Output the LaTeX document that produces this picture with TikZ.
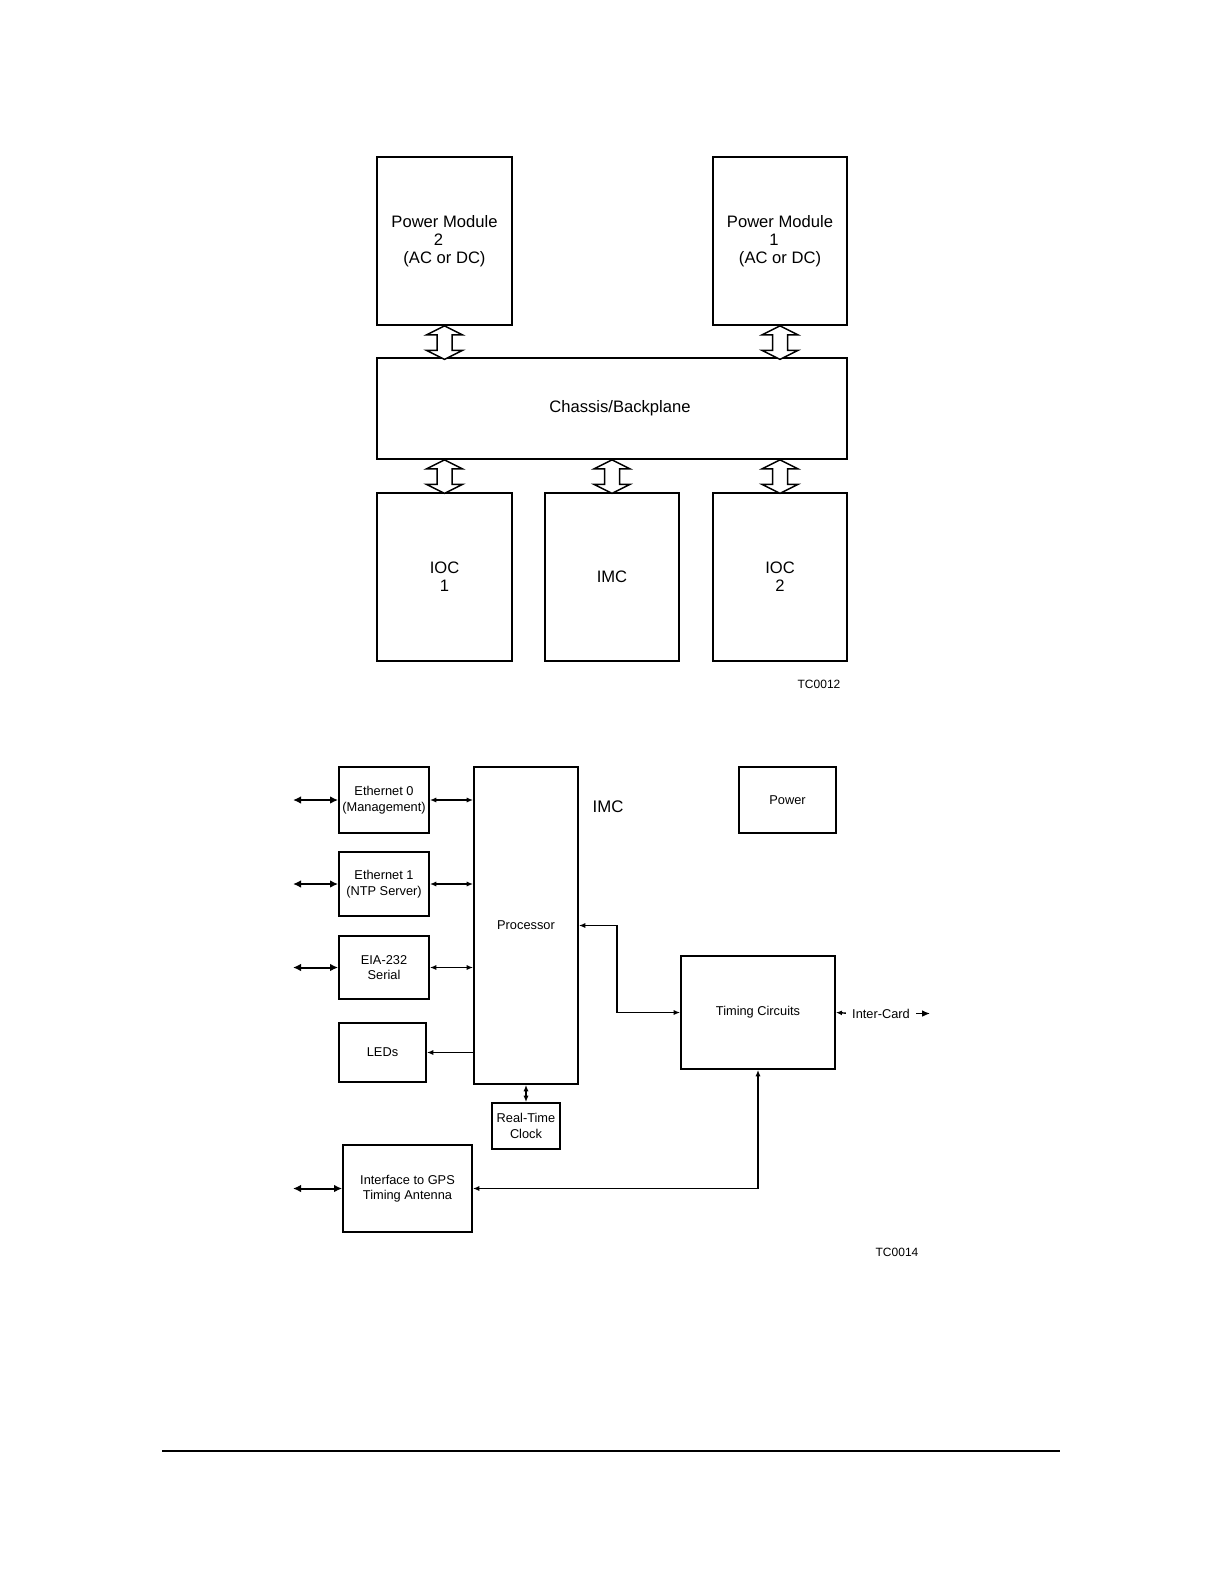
\documentclass[tikz,border=0pt]{standalone}
\usepackage{fontspec}
\setmainfont{Liberation Sans}
\usetikzlibrary{arrows.meta,calc}
\begin{document}
\begin{tikzpicture}[x=0.5pt,y=-0.5pt,
  box/.style={draw, line width=0.9pt, inner sep=1pt, align=center},
  topbox/.style={box, font=\fontsize{8.3}{9}\selectfont},
  lowbox/.style={box, font=\fontsize{6.4}{7.7}\selectfont},
  lowtext/.style={inner sep=0pt, font=\fontsize{6.4}{7.7}\selectfont},
  tctext/.style={inner sep=0pt, font=\fontsize{6}{7}\selectfont},
  con/.style={line width=0.7pt},
  sarr/.style={con, {Latex[length=3.2pt,width=2.6pt]}-{Latex[length=3.2pt,width=2.6pt]}},
  ext/.style={line width=1pt, {Latex[length=4pt,width=3.8pt]}-{Latex[length=4pt,width=3.8pt]}},
  hollow/.style={draw, line width=0.75pt, fill=white, line join=miter}
]
\useasboundingbox (0,0) rectangle (1224,1584);

% ---------- top diagram ----------
\node[topbox, minimum width=67.5pt, minimum height=84pt] (pm2) at (444.5,241)
  {Power Module\\\hbox{2\kern6pt}\\(AC or DC)};
\node[topbox, minimum width=67pt, minimum height=84pt] (pm1) at (780,241)
  {Power Module\\\hbox{1\kern6pt}\\(AC or DC)};
\node[topbox, minimum width=235pt, minimum height=50.5pt] (chassis) at (612,408.5)
  {\hspace*{8pt}Chassis/Backplane};
\node[topbox, minimum width=67.5pt, minimum height=84pt] (ioc1) at (444.5,577)
  {IOC\\1};
\node[topbox, minimum width=67pt, minimum height=84pt] (imc) at (612,577)
  {IMC};
\node[topbox, minimum width=67pt, minimum height=84pt] (ioc2) at (780,577)
  {IOC\\2};
\node[tctext] (tc12) at (819,684) {TC0012};

% hollow double arrows
\foreach \t in {(pm2.south), (pm1.south), (chassis.south -| ioc1.north), (chassis.south -| imc.north), (chassis.south -| ioc2.north)}{
  \draw[hollow] \t -- ++(-18,9) -- ++(10.5,0) -- ++(0,15.5) -- ++(-10.5,0) -- ++(18,9) -- ++(18,-9) -- ++(-10.5,0) -- ++(0,-15.5) -- ++(10.5,0) -- cycle;
}

% ---------- lower diagram ----------
\node[lowbox, minimum width=45pt, minimum height=33pt] (eth0) at (384,800)
  {Ethernet 0\\(Management)};
\node[lowbox, minimum width=45pt, minimum height=32pt] (eth1) at (384,884)
  {Ethernet 1\\(NTP Server)};
\node[lowbox, minimum width=45pt, minimum height=31.5pt] (eia) at (384,967.5)
  {EIA-232\\Serial};
\node[lowbox, minimum width=43.5pt, minimum height=29.5pt] (leds) at (382.5,1052.5)
  {LEDs};
\node[lowbox, minimum width=52pt, minimum height=158.5pt] (proc) at (526,925.5)
  {Processor};
\node[lowbox, minimum width=48.5pt, minimum height=33pt] (power) at (787.5,800)
  {Power};
\node[lowbox, minimum width=77pt, minimum height=56.5pt] (timing) at (758,1012.5)
  {Timing Circuits};
\node[lowbox, minimum width=34pt, minimum height=23pt] (rtc) at (526,1126)
  {Real-Time\\Clock};
\node[lowbox, minimum width=64.5pt, minimum height=43.5pt] (gps) at (407.5,1188.5)
  {Interface to GPS\\Timing Antenna};
\node[inner sep=0pt, font=\fontsize{8.4}{9}\selectfont] (imclbl) at (608,807) {IMC};
\node[lowtext] (ic) at (881,1013.5) {Inter-Card};
\node[tctext] (tc14) at (897,1252) {TC0014};

% free ends
\coordinate (x0) at (293,800);
\coordinate (x1) at (293,884);
\coordinate (x2) at (293,967.5);
\coordinate (x3) at (293,1188.5);
\coordinate (icr) at (930,1013.5);
\coordinate (bend) at (617,1012.5);

% external arrows
\draw[ext] (x0) -- (eth0.west);
\draw[ext] (x1) -- (eth1.west);
\draw[ext] (x2) -- (eia.west);
\draw[ext] (x3) -- (gps.west);

% internal connectors
\draw[sarr] (eth0.east) -- (eth0.east -| proc.west);
\draw[sarr] (eth1.east) -- (eth1.east -| proc.west);
\draw[sarr] (eia.east) -- (eia.east -| proc.west);
\draw[con, -{Latex[length=3.2pt,width=2.6pt]}] (leds.east -| proc.west) -- (leds.east);
\draw[sarr] (proc.south) -- (rtc.north);
\draw[sarr] (timing.west) -- (bend) |- (proc.east);
\draw[sarr] (gps.east) -| (timing.south);
\draw[con, {Latex[length=3pt,width=2.4pt]}-, shorten >=3pt] (timing.east) -- (ic.west);
\draw[con, -{Latex[length=4pt,width=3.4pt]}, shorten <=3pt] (ic.east) -- (icr);

% page rule
\coordinate (r0) at (162,1451);
\coordinate (r1) at (1060,1451);
\draw[line width=0.6pt] (r0) -- (r1);
\end{tikzpicture}
\end{document}
